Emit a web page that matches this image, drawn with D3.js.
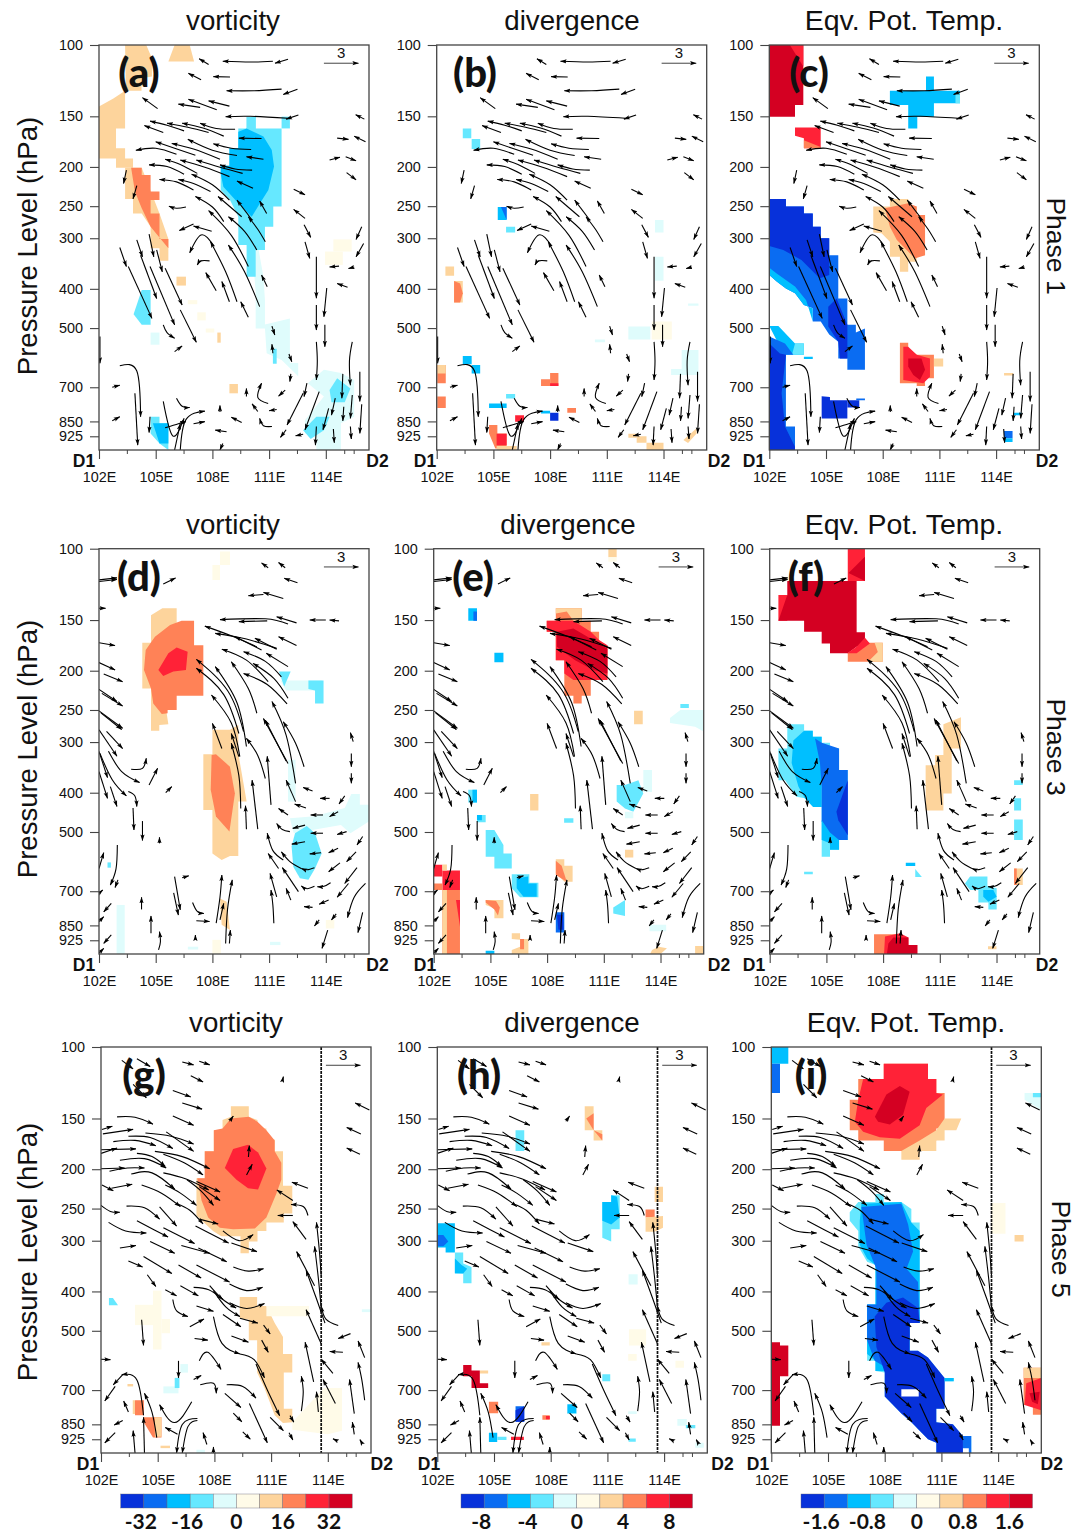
<!DOCTYPE html>
<html>
<head>
<meta charset="utf-8">
<script src="https://cdn.jsdelivr.net/npm/d3@7"></script>
<style>
body { margin: 0; background: #fff; }
text { font-family: "Liberation Sans", Arial, sans-serif; fill: #111; }
</style>
</head>
<body>
<svg id="chart" width="1086" height="1534"></svg>
<script>
// lev is log-pressure depth: 0 = 100 hPa, 100 = 1000 hPa
var pressureTicks = [100, 150, 200, 250, 300, 400, 500, 700, 850, 925];
var lonTicks = [102, 105, 108, 111, 114];
var lonMinor = [103.5, 106.5, 109.5, 112.5, 115, 115.5];
var colors = ["#0731da", "#0a6cf2", "#00bfff", "#66e8ff", "#dffcfc", "#fffbe8", "#fdd49c", "#ff8257", "#ff2237", "#d40022"];

// a shape is [color, lon0, lon1, lev0, lev1] or a polygon [color, lon, lev, lon, lev, ...]
var fillA = [
  [6, 103.38,0, 104.5,0, 104.8,3.3, 104.8,7.8, 104.25,8.2, 104.25,11.3, 103.42,11.3],
  [6, 105.67,4.1, 107.03,4.1, 106.8,0, 106,0],
  [6, 102,15.2, 102.76,13.2, 103.38,11.3, 103.38,20.6, 102.9,20.6, 102.9,25.5, 103.38,25.5, 103.38,28, 103.8,28, 103.8,30.3, 102.9,30.3, 102.9,28, 102,28],
  [6, 103.38,30.3, 104.26,30.3, 105.2,41.6, 105.67,47.9, 105.67,53.3, 105.2,53.3, 105.2,50.2, 104.73,50.2, 104.73,44.9, 104.26,41.6, 103.8,41.6, 103.8,38, 103.38,38],
  [7, 103.7,30.3, 104.26,30.3, 104.26,32.1, 104.73,32.1, 104.73,36.2, 105.2,36.2, 105.2,38.3, 104.73,38.3, 104.73,41.6, 105.2,41.6, 105.2,47.9, 105.67,47.9, 105.67,50.2, 104.73,44.9, 104.26,40.3, 103.9,36.2],
  [6, 106.1,106.6,57.2,59.4],
  [6, 108.9,109.35,83.7,86],
  [6, 108.26,108.44,71,73.5],
  [5, 114.4,115.37,48,51],
  [5, 113.96,114.9,51,54.3],
  [5, 106.7,107.2,63,64],
  [5, 107.2,107.65,66,68],
  [5, 107.65,108.1,70,71],
  [4, 109.81,34,110.7,57.2, 110.78,63,110.78,69, 112.1,67.5, 112.1,78.5, 112.54,78.5, 112.54,81.8, 111.66,77.8, 110.87,76.1, 110.78,70, 110.29,70, 110.29,61],
  [4, 113.05,83.5, 113.9,80.2, 114.8,81, 115.5,82.7, 115.5,91.8, 114.8,93.4, 114.8,100, 113.5,100, 113.5,95.9, 112.9,95.9, 112.9,92.6, 113.9,86.8],
  [3, 109.37,20.6, 109.8,20.6, 109.8,17.7, 110.3,17.7, 110.3,20.6, 111.66,20.6, 111.66,39.9, 111.22,39.9, 111.22,44.9, 110.78,44.9, 110.78,50.6, 110.29,50.6, 110.29,57.2, 109.81,57.2, 109.81,49.4, 109.37,49.4, 109.37,42.4, 108.93,38.3, 108.44,35.8, 108.44,29.8, 108.9,29.8, 108.9,25.5, 109.37,25.5],
  [3, 111.66,112.1,17.7,20.6],
  [2, 109.81,20.6, 110.7,22.6, 111.14,25.9, 111.26,30, 110.96,35.8, 110.52,39.1, 110.08,42.4, 109.37,39.1, 108.58,35, 108.44,31.7, 108.44,29.8, 108.9,29.8, 108.9,25.5, 109.37,25.5, 109.37,21.4],
  [3, 111.2,111.4,75,78.7],
  [3, 103.83,66.5, 104.26,60.5, 104.73,60.5, 104.73,69.1, 104.26,69.1],
  [4, 104.73,105.2,71,74],
  [3, 114.2,85.2, 114.6,82.3, 115.3,84.8, 115,88.2, 114.3,88.2],
  [3, 112.8,95.1, 113.5,91.8, 114.2,91.8, 113.9,95.1, 113.2,97.3],
  [3, 104.73,91.8, 105.2,91.8, 105.2,93.4, 105.67,93.4, 105.67,100, 105.2,98.4, 104.73,95.9],
  [2, 104.85,93.4, 105.67,93.4, 105.67,98.4, 105.2,98.4]
];
var fillB = [
  [3, 103.38,103.83,20.6,23], [3, 103.85,104.3,23.2,25.7],
  [2, 105.23,105.7,40,43.2], [1, 105.4,40, 105.7,40, 105.7,43.2],
  [3, 105.67,106.15,44.9,46.3],
  [6, 102.46,102.92,54.7,57],
  [6, 102.92,103.38,58.3,63.6],
  [7, 102.92,58.3, 103.24,58.9, 103.38,61.3, 103.24,63.6, 102.92,63.6],
  [7, 102.03,102.48,79,83.5], [6, 102.03,102.48,79,81.1],
  [7, 102.03,102.48,86.8,89.6],
  [2, 103.38,103.85,76.8,78.8], [2, 103.85,104.3,79,81.1],
  [3, 105.67,106.15,86.2,87.3],
  [2, 104.77,105.7,88.5,89.6],
  [8, 106.15,106.62,91.4,93],
  [7, 108,108.44,81,84.2], [7, 107.52,108,82.5,84.2], [8, 108,108.44,83.5,84.2],
  [0, 108,108.44,90.8,92.8], [2, 107.52,108,90.3,91],
  [7, 108.91,109.37,89.6,90.8],
  [7, 104.77,93.8, 105.21,93.8, 105.21,95.9, 105.7,95.9, 105.7,99.6, 105.1,99.6, 104.77,95.9],
  [8, 105.17,105.7,96,98.8],
  [6, 105.17,106.23,99,100],
  [6, 112.14,112.58,96,97], [6, 112.58,113.1,96.6,98.2], [6, 113.1,114,98.2,100],
  [6, 115.05,97.5, 115.75,94.6, 115.75,95.9, 115.3,98.3],
  [5, 113.38,114.44,68.3,72.7],
  [4, 112.14,113.3,69.5,72.7],
  [4, 113.55,114,43.2,46.3], [4, 113.55,114,52.3,58.2],
  [4, 114.96,115.85,75.3,81.5], [4, 114.4,115,80,81.5],
  [4, 115.3,115.85,63.8,64.4], [4, 110.37,110.9,72.7,73.4]
];
var fillC = [
  [9, 102,0, 103.8,0, 103.8,14.8, 103.36,14.8, 103.36,17.7, 102,17.7],
  [8, 103.09,0, 103.8,0, 103.8,5.3],
  [8, 103.36,20.4, 104.72,20.4, 104.72,25.5, 103.83,25.5, 103.83,23, 103.36,22.4],
  [7, 103.83,23.5, 104.72,25.2, 104.72,25.5, 103.83,25.5],
  [6, 107.5,39.9, 108.38,39.9, 108.38,38, 109.35,38, 109.35,39.9, 109.8,39.9, 109.8,42, 110.24,42, 110.24,51.9, 109.8,51.9, 109.8,53.5, 109.35,53.5, 109.35,56, 108.91,56, 108.91,52.3, 108.38,52.3, 108.38,48.6, 107.94,46.5, 107.5,46.3],
  [7, 108.12,40.3, 109.35,39.1, 109.8,39.9, 109.8,42, 110.24,42, 110.24,51.9, 109.7,52.7, 108.74,48.1, 108.38,44.9],
  [1, 102,38, 102.88,38, 102.88,39.9, 103.83,39.9, 103.83,41.6, 104.3,41.6, 104.3,44.9, 104.72,44.9, 104.72,47.7, 105.17,47.7, 105.17,51.9, 105.65,51.9, 105.65,62.6, 106.13,62.6, 106.13,69.1, 106.58,69.1, 106.58,71, 107.06,70, 107.06,80.2, 106.13,80.2, 106.13,77.4, 105.65,77.4, 105.65,73.3, 105.17,71.5, 104.72,68.3, 104.3,68.3, 104.3,65, 103.83,64.2, 103.36,61.3, 102.88,60.1, 102.39,58.4, 102,56.8],
  [2, 102,56.8, 102,55, 102.39,56.4, 103.36,59.6, 103.95,63, 104.3,68.3, 104.3,65, 103.83,64.2, 103.36,61.3, 102.88,60.1, 102.39,58.4],
  [0, 102,38, 102.88,38, 102.88,39.9, 103.83,39.9, 103.83,41.6, 104.3,41.6, 104.3,44.9, 104.72,44.9, 104.72,47.7, 105.17,47.7, 105.17,56.8, 104.67,57.6, 103.7,53.1, 102.74,50.6, 102,49.6],
  [0, 105.12,64.6, 105.56,62.6, 106.13,69.1, 106.13,77.4, 105.74,77.4, 105.65,73.3, 105.12,69.5],
  [2, 102,69.4, 102.48,69.4, 103.36,73.7, 103.83,73.7, 103.83,76.5, 103.36,76.5, 102.88,76.5, 102.4,73],
  [3, 103.36,73.7, 103.83,73.7, 103.83,76.5, 103.2,76.5],
  [1, 102,72, 102.83,73.7, 103.27,76.5, 102.88,76.5, 102.88,94.2, 103.36,94.2, 103.36,100, 102,100],
  [0, 102,73.7, 102.56,76.2, 102.88,76.5, 102.65,86, 102.83,94.2, 103.36,99.2, 103.36,100, 102,100],
  [2, 103.83,104.3,77,77.5],
  [0, 104.77,86.7, 105.21,86.9, 105.21,87.7, 106.13,87.7, 106.13,89.5, 106.76,89.5, 106.13,89.5, 106.13,92.2, 104.77,92.2],
  [0, 106.13,106.76,87.7,89.5], [1, 106.6,107.06,87.3,87.7],
  [1, 114.42,114.87,95.3,97.1], [2, 114.42,114.87,97.1,98],
  [2, 114.91,115.35,90.8,91.4], [6, 114.42,114.91,81,81.6],
  [7, 108.91,73.5, 109.35,73.5, 109.35,74.9, 109.8,76.5, 110.71,76.5, 110.71,82.3, 110.24,82.3, 110.24,84.2, 109.8,84.2, 109.8,83.5, 108.91,83.5],
  [6, 110.71,111.2,77.4,79.4],
  [8, 109.09,74.5, 109.35,74.5, 109.8,76.5, 110.5,77.4, 110.5,81.9, 110.15,83.5, 109.09,82.7],
  [9, 109.35,77.4, 110.05,77.4, 110.24,80.2, 109.97,82.7, 109.62,81.5, 109.35,79.4],
  [2, 108.38,11.3, 110.29,11.3, 110.29,7.8, 110.71,7.8, 110.71,11.3, 112.09,11.3, 112.09,14.4, 110.71,14.4, 110.71,17.7, 109.83,17.7, 109.83,20.6, 109.35,20.6, 109.35,14.8, 108.38,14.8],
  [3, 111.85,112.09,11.8,14.4]
];
var fillD = [
  [6, 104.75,16.4, 105.35,14.7, 106.11,14.7, 106.11,20.9, 105.58,40.6, 105.67,43.3, 105.19,43.5, 105.19,44.9, 104.75,44.9, 104.75,34.5, 104.29,34.5, 104.29,23.2, 104.75,23.2],
  [7, 104.96,21.7, 105.76,18.8, 106.37,17.8, 107.03,17.8, 107.03,23.8, 107.52,23.8, 107.52,32.4, 107.03,32.4, 107.52,32.4, 107.52,36.3, 106.11,36.3, 106.11,39.8, 105.63,39.8, 105.63,40.6, 105.32,40.8, 104.87,38.2, 104.75,34.5, 104.38,29.9, 104.47,25],
  [8, 105.14,29.9, 105.67,25.8, 106.11,24.4, 106.69,25.4, 106.6,29.9, 105.93,30.3, 105.4,31.4],
  [6, 108,44.7, 108.93,44.7, 109.37,43.5, 109.37,50.5, 109.81,62.4, 109.37,62.4, 109.37,75.8, 108.93,75.8, 108.49,76.8, 108,75.2, 108,64.5, 107.52,64.5, 107.52,50.7, 108,50.7],
  [7, 107.96,50.9, 108.19,50.7, 108.93,53.8, 109.19,60.4, 108.9,69.8, 108.19,66.1, 107.91,59.5],
  [6, 108.4,86.3, 108.75,87.1, 108.93,94.1, 108.49,92.8],
  [5, 108.4,108.93,0.7,4], [5, 108,108.4,4,7.7],
  [4, 112.1,66.5, 113.4,66, 115,64, 115.35,60.5, 115.8,60.5, 115.8,63.2, 116.28,63.2, 116.28,67.3, 115.3,70.2, 114.8,68.2, 112.3,70.2],
  [4, 112,112.4,52.1,62.4],
  [3, 112.19,73.5, 112.37,70.2, 112.99,68.4, 113.43,70.2, 113.78,75.2, 113.43,78.9, 113.08,81.7, 112.63,81.3, 112.28,78.5],
  [4, 111.6,32.5, 113.8,32.5, 113.8,35, 111.9,35],
  [3, 111.52,30.3, 112.14,30.3, 111.8,34],
  [3, 113.08,32.5, 113.88,32.5, 113.88,38.2, 113.43,38.2, 113.43,35, 113.08,34.6],
  [4, 102.93,103.36,87.9,100],
  [3, 102.45,102.63,77.4,78.7],
  [4, 111.05,111.6,97,97.8],
  [5, 108,108.45,96.5,100],
  [4, 106.7,107.25,98.2,98.9],
  [5, 114,114.45,91.6,93.7]
];
var fillE = [
  [2, 103.83,104.29,14.7,17.8], [1, 104.1,104.29,15.5,17.8],
  [2, 105.21,105.69,25.7,28],
  [3, 103.83,104.29,59.5,62.6], [2, 104.05,104.29,59.5,62.6],
  [3, 104.29,104.75,65.7,67.5], [2, 104.29,104.55,65.7,67],
  [3, 104.75,69.4, 105.21,69.4, 105.69,73.1, 105.69,75.2, 106.13,75.2, 106.13,78.9, 105.21,78.9, 105.21,76, 104.75,76],
  [3, 106.13,80.3, 107.06,80.3, 107.06,82.4, 107.54,82.4, 107.54,86, 106.57,86, 106.13,83.8],
  [2, 106.39,81.3, 107,80.9, 107,82.6, 107.45,82.6, 107.45,85.9, 106.75,85.9, 106.39,83.8],
  [3, 108.9,109.39,66.5,67.6],
  [6, 107.1,107.54,60.5,64.6],
  [6, 111.24,111.68,0,2.1], [5, 111.24,111.68,2.1,3.2],
  [6, 112.6,113.06,40,43.3],
  [4, 113.09,113.55,54.6,60],
  [3, 111.68,58.3, 112.12,58.3, 112.83,57.1, 113.09,60.4, 112.56,64.9, 112.12,64.1, 111.68,62.4],
  [4, 112.12,112.56,64.9,66.5],
  [4, 114.5,41.8, 115.05,39.8, 116.28,39.8, 116.28,45.1, 115.83,43.9, 114.5,43],
  [3, 115.05,115.5,38.3,39.3],
  [6, 112.12,112.56,74.3,76.2],
  [3, 111.5,88.5, 112.12,86.7, 112.12,90.6, 111.5,90],
  [4, 113.42,114.3,92.8,94.4],
  [7, 108.46,14.7, 109.83,14.7, 109.83,17.8, 110.31,17.8, 110.31,20.5, 110.75,20.5, 110.75,23.8, 111.19,23.8, 111.19,32.4, 110.31,32.4, 110.31,36.3, 109.83,36.3, 109.83,38.2, 109.39,38.2, 109.39,36.3, 108.91,36.3, 108.91,27.5, 108.46,27.5, 108.46,20.5, 107.98,20.5, 107.98,17.8, 108.46,17.8],
  [6, 108.46,14.7, 109.83,14.7, 109.83,17.8, 109.39,17.8, 109.04,15.5, 108.46,16],
  [8, 107.98,17.8, 109.39,17.8, 110.31,20.5, 110.75,22.5, 111.19,23.8, 111.19,32.4, 109.39,32.4, 108.91,30.8, 108.91,27.5, 108.46,27.5, 108.46,20.5, 107.98,20.5],
  [9, 108.52,20.5, 109.39,19.7, 110.27,22.1, 111.19,24.6, 111.19,30.8, 110.45,29.9, 109.48,27.5, 108.52,24.2],
  [8, 102,102.46,78,80.9], [8, 102.46,103.39,79.4,84.2], [7, 102,102.46,82.6,84.2],
  [7, 102.46,103.39,84.2,100], [6, 102.46,102.7,84.2,100],
  [8, 103.18,86.7, 103.39,86.7, 103.39,93.2],
  [6, 102.46,102.7,77.9,79.4],
  [6, 104.75,86.7, 105.69,86.7, 105.69,91.2, 105.21,91.2, 105.21,88.7, 104.75,87.9],
  [7, 104.75,86.7, 105.3,86.9, 105.5,88.5, 105.4,90.5, 105.21,89, 104.75,87.3],
  [6, 108.46,76.6, 108.91,76.6, 108.91,78.2, 109.35,78.2, 109.35,82.2, 108.91,82.2, 108.46,80.1],
  [7, 108.46,77, 108.77,78.2, 109.04,82.2, 108.46,80.5],
  [1, 108.46,108.91,89.7,94.7], [0, 108.52,90.3, 108.84,90.3, 108.87,94, 108.6,94],
  [6, 106.13,94.9, 106.57,94.9, 106.57,96.3, 107.01,96.3, 107.01,100, 106.13,100, 106.13,99, 106.57,98.2, 106.57,96.5, 106.13,96.3],
  [7, 106.57,106.78,96.3,98.8],
  [2, 104.75,105.21,99.2,100],
  [6, 113.55,99, 113.9,98.2, 114.34,98.6, 114,100, 113.45,100],
  [6, 115.83,116.28,98,100]
];
var fillF = [
  [8, 106.13,107.04,0,8],
  [9, 106.17,6, 107.04,2, 107.04,8],
  [7, 107.04,23.2, 107.98,23.2, 107.98,27.9, 106.13,27.9, 106.13,25.8, 106.95,24.5],
  [6, 107.55,23.2, 107.98,23.2, 107.98,27.9, 107.2,27.9, 107.72,25.5],
  [8, 102.46,11.4, 102.93,11.4, 102.93,17.8, 102.46,17.8],
  [9, 102.93,8, 106.6,8, 106.6,20.6, 107.04,20.6, 107.04,23.4, 106.6,24.2, 106.13,25.8, 105.19,25.8, 105.19,23.4, 104.75,23.4, 104.75,20.5, 103.82,20.5, 103.82,17.8, 102.46,17.8, 102.93,11.4],
  [8, 106.1,25.8, 106.6,24.2, 107.04,22, 107.3,23.4, 106.6,25.8],
  [3, 102.93,43.3, 103.82,43.3, 103.82,44.9, 104.28,44.9, 104.28,46.4, 104.75,46.4, 104.75,47.9, 105.19,47.9, 105.19,49.3, 105.67,49.3, 105.67,54.6, 106.13,54.6, 106.13,71.9, 105.67,71.9, 105.67,74.3, 105.19,74.3, 105.19,76, 104.75,76, 104.75,63.7, 104.3,63.7, 103.86,61.6, 103.42,61.2, 102.81,57.1, 102.46,57.1, 102.46,49.3, 102.93,49.3],
  [2, 103.25,47.3, 103.82,44.9, 104.28,44.9, 104.28,46.4, 104.75,46.4, 104.75,63.7, 104.3,63.7, 103.86,61.6, 103.52,58.7, 103.16,52.9],
  [1, 104.4,46.8, 104.75,47.9, 105.67,49.3, 105.67,54.6, 106.13,54.6, 106.13,71.9, 105.19,71.9, 104.75,67.3, 104.75,58.7, 104.66,52.9],
  [0, 105.53,64.9, 106.13,57.1, 106.13,70.7, 105.63,67],
  [2, 104.75,67, 105.19,70, 105.67,71.9, 105.67,74.3, 105.19,74.3, 105.19,72.7, 104.75,71.9],
  [3, 103.82,104.28,79.7,80.3],
  [2, 109.2,109.7,77.5,78.3],
  [3, 109.7,79, 110.05,81, 109.7,81],
  [3, 112.33,82.6, 112.6,80.9, 113.52,80.9, 113.52,83.2, 114.01,83.8, 114.01,89, 113.57,89, 113.57,87.3, 113.04,87.3, 113.04,84.2, 112.6,84.2],
  [2, 113.3,84.2, 113.83,84.2, 114.01,85.9, 113.57,87.1, 113.3,85.9],
  [3, 114.93,115.39,57.1,58.3], [3, 114.93,115.3,61.6,64.6], [3, 114.93,115.39,66.8,71.9],
  [6, 114.93,115.39,78.9,83], [7, 114.93,115.07,78.9,83],
  [6, 111.19,43.3, 112.12,41.6, 112.12,49.3, 111.63,49.3, 111.63,60.4, 111.19,60.4, 111.19,64.6, 110.25,64.6, 110.25,53.4, 110.75,53.4, 110.75,50.9, 111.19,50.9],
  [7, 107.52,108.9,95.1,100],
  [8, 108.1,95.7, 108.9,94.9, 109.34,95.9, 109.34,97.8, 109.81,97.8, 109.81,100, 108.05,100],
  [9, 108.28,97.4, 108.54,95.9, 109.34,95.9, 109.34,97.8, 109.81,97.8, 109.81,100, 108.2,100],
  [6, 113.55,114,98.1,98.8]
];
var fillG = [
  [6, 108.87,14.6, 109.82,14.6, 109.82,17.2, 110.28,18, 110.28,20.1, 110.75,20.1, 110.75,22.8, 111.19,22.8, 111.19,25.7, 111.63,25.7, 111.63,34.2, 112.12,34.2, 112.12,41, 111.67,41, 111.67,43.2, 110.75,43.2, 110.75,45.3, 110.28,45.3, 110.28,47.9, 109.82,47.9, 109.82,50.8, 109.38,50.8, 109.38,46.6, 108.37,46.6, 107.93,45.3, 107.44,43.2, 107.05,41.5, 107.05,32.3, 107.49,32.3, 107.49,25.7, 107.97,25.7, 107.97,20.5, 108.43,20.5, 108.43,18, 108.87,17.2],
  [7, 108.43,20.1, 108.87,17.6, 109.82,17.2, 110.28,18.4, 110.75,20.5, 111.19,23, 111.19,25.7, 111.54,28.5, 111.54,32.7, 111.28,36.1, 110.75,42, 110.14,44.7, 108.99,44.9, 108.29,44.5, 107.67,42, 107.32,37.8, 107.09,32.3, 107.49,32.3, 107.49,25.7, 107.97,25.7, 107.97,20.5],
  [8, 108.55,29.8, 108.99,25.1, 109.78,24.1, 110.31,26, 110.75,29.9, 110.31,35.1, 109.78,34.8, 109.17,32.7],
  [6, 109.34,61.6, 110.26,61.6, 110.26,63.8, 110.75,63.8, 111.19,68, 111.63,71.4, 111.63,75.6, 112.12,75.6, 112.12,80.2, 111.67,80.2, 111.67,89.1, 112.12,89.1, 112.12,92.4, 111.63,92.6, 111.19,90.7, 110.65,84, 110.26,80.2, 110.26,72.2, 109.82,72.2, 109.82,67.2, 109.34,66.8],
  [5, 103.8,104.75,63.5,68.5], [5, 104.75,105.2,60,74.5], [5, 105.2,105.65,67,70.5],
  [5, 110.75,113,63.8,66.3],
  [5, 112.12,92.4, 113.8,84, 114.75,84, 114.75,94.5, 114,95.4, 112.12,94.3],
  [3, 102.42,61.8, 102.63,61.8, 102.9,63.6, 102.42,63.6],
  [7, 103.8,104.27,87,90.7], [6, 103.68,103.8,87,90.4],
  [7, 104.27,91.2, 105.2,91.2, 105.2,96.2, 104.75,96.2, 104.27,92.5], [6, 104.85,105.2,91.2,96],
  [6, 103.4,103.7,83,83.6],
  [6, 105.15,105.65,98.2,98.8],
  [4, 105.3,106.1,83.6,85.3], [3, 105.9,106.15,81.5,84], [4, 106.2,106.6,78.1,80.2],
  [4, 107.05,107.5,99.2,100], [4, 115.8,116.28,64.6,65.3]
];
var fillH = [
  [3, 106.14,106.6,20.5,25.6],
  [6, 107.51,107.95,72.7,73.5],
  [6, 109.8,110.27,14.6,20.5], [7, 109.88,17.6, 110.27,16.3, 110.27,20.5],
  [6, 110.27,110.73,20.5,23], [7, 110.27,20.5, 110.73,21.5, 110.73,23],
  [6, 113.5,113.94,34.4,38.2],
  [7, 113.02,113.5,40,42],
  [6, 113.02,42, 113.94,41.6, 113.94,44.5, 113.5,45.5, 113.02,45.5],
  [3, 110.73,38.2, 111.2,38.2, 111.2,36.5, 111.65,36.5, 111.65,44.9, 111.2,44.9, 111.2,47.9, 110.73,47],
  [2, 110.73,38.2, 111.2,38.2, 111.2,36.5, 111.51,36.9, 111.65,42, 111.2,43.7, 110.73,42.8],
  [2, 102,43.4, 102.93,43.4, 102.93,50.6, 102.44,50.6, 102.44,49.4, 102,49.4],
  [1, 102,46.3, 102.32,46.3, 102.58,47.9, 102.32,49.1, 102,49.1],
  [3, 102.93,50.6, 103.37,50.6, 103.37,53.3, 103.81,54.2, 103.81,58.2, 103.37,58.2, 103.37,55.8, 102.93,55.8],
  [2, 102.93,52.1, 103.29,53.7, 103.58,54.6, 103.37,55.8, 102.93,55.7],
  [4, 112.12,112.6,56,58.5],
  [5, 112.14,113.05,69.5,73.5], [5, 112.1,112.55,75.6,77.3], [5, 114.6,115.05,77.3,79],
  [3, 110.73,111.15,80.6,82.3],
  [6, 104.25,104.69,79.7,80.4], [6, 104.25,104.69,83,84],
  [9, 103.37,78.3, 103.81,78.3, 103.81,79.7, 104.25,79.7, 104.25,82.8, 104.69,82.8, 104.69,84, 103.81,84, 103.81,81.1, 103.37,81.1],
  [7, 104.73,105.22,87.4,90.2],
  [1, 106.14,106.6,88.5,92.3], [0, 106.14,89.5, 106.6,88.5, 106.6,92.3, 106.14,92.3],
  [7, 107.56,107.95,90.7,91.8], [8, 107.75,107.95,90.9,91.7],
  [2, 108.88,109.36,88,90.2], [3, 108.88,109.36,90.2,90.4],
  [2, 104.73,105.17,95,97.3], [3, 105.17,105.66,96,96.8],
  [8, 105.9,106.58,96,96.8],
  [3, 112.12,112.5,96.4,97.2],
  [4, 112.1,112.55,89.7,90.4], [4, 114.7,115.2,91.6,93.3], [3, 115.15,115.65,93.1,93.9], [4, 115.65,116.1,97.5,98.7]
];
var fillI = [
  [2, 102,102.9,0,4.1], [1, 102,102.46,4.1,11.3],
  [7, 106.6,7.9, 107.95,7.9, 107.95,4.1, 110.29,4.1, 110.29,7.9, 110.73,7.9, 110.73,11.3, 111.17,11.3, 111.17,20.1, 110.73,20.1, 110.73,23, 110.29,23, 110.29,25.6, 108.88,25.6, 107.95,25.6, 107.95,23, 106.6,23, 106.6,20.5, 106.15,20.5, 106.15,13, 106.6,13],
  [8, 106.86,7.9, 107.95,7.9, 107.95,4.1, 110.29,4.1, 110.29,7.9, 110.73,7.9, 110.73,11.3, 111.08,11.7, 110.2,15, 109.85,19.3, 108.8,22.6, 107.74,22.2, 106.86,20.9, 106.42,18.4, 106.6,13],
  [9, 107.48,17.2, 108.09,11.7, 108.8,9.6, 109.32,11, 108.97,16.7, 108.27,19.1, 107.65,18.4],
  [6, 111.17,17.6, 112.05,17.6, 111.79,20.5, 111.17,20.5, 111.17,23, 110.73,23, 110.73,25.6, 109.85,25.6, 109.85,27.8, 108.88,27.8, 108.88,25.6, 109.85,23, 110.73,20.5],
  [4, 115.4,11.3, 116.28,11.3, 116.28,15.5, 115.4,13],
  [3, 115.84,116.28,11.3,12.4],
  [3, 107.51,36.2, 107.95,36.2, 107.95,38.2, 108.88,38.2, 109.41,39.9, 109.41,43.2, 109.85,43.2, 109.85,68, 109.32,68, 109.32,74.8, 109.76,74.8, 110.29,76.5, 110.73,79, 111.17,81.5, 111.65,81.5, 111.65,82.3, 111.17,82.3, 111.17,89.1, 110.73,89.1, 110.73,92.4, 111.61,92.9, 112.14,95.8, 112.58,95.8, 112.58,100, 110.73,100, 110.73,97.5, 110.29,96.6, 109.41,92.4, 108.88,90.3, 108.44,88.2, 108,86.1, 108,80.2, 107.51,79.8, 107.51,77.3, 107.07,77.3, 107.07,63.4, 107.51,63.4, 107.51,53.7, 107.07,52.9, 106.6,49.1, 106.6,45.3, 106.15,42.8, 106.15,40.7, 106.6,38.2, 107.51,38.2],
  [2, 106.77,38.6, 108.88,38.2, 109.41,43.2, 109.85,45.3, 109.85,68, 109.32,68, 109.32,74.8, 108.27,79.8, 107.51,79.8, 107.51,77.3, 107.07,75.6, 107.07,63.4, 107.51,63.4, 107.51,53.7, 107.07,52.1, 106.68,48.7, 106.68,42.8],
  [1, 106.77,39.4, 108.88,38.6, 109.24,43.7, 109.5,50.4, 109.15,54.6, 109.76,57.9, 109.85,68, 109.32,68, 109.32,72.2, 108.09,79, 107.47,77.3, 107.07,72.2, 107.07,63.4, 107.56,63.4, 107.56,54.6, 107.04,48.7],
  [0, 107.47,66.4, 108.09,63, 108.97,61.7, 109.76,64.3, 109.85,68, 109.32,68, 109.32,74.8, 109.76,74.8, 110.29,76.5, 110.73,79, 111.17,81.5, 111.17,89.1, 110.73,89.1, 110.73,92.4, 111.61,92.9, 112.14,95.8, 112.14,100, 110.73,100, 110.73,97.5, 110.29,96.6, 109.41,92.4, 108.88,90.3, 108.44,88.2, 108,86.1, 108,80.2, 107.56,73.9],
  [1, 112.14,112.58,95.8,100],
  [2, 111.17,111.65,81.5,82.3],
  [102, 108.88,109.8,84.3,86.1],
  [102, 112.14,112.45,98.8,100],
  [9, 102,72.7, 102.46,72.7, 102.46,73.5, 102.9,73.5, 102.9,81.1, 102.46,81.1, 102.46,93.3, 102,93.3],
  [7, 115.35,79, 116.28,79, 116.28,90.6, 115.84,90.6, 115.84,88.2, 115.35,88.2],
  [6, 115.35,116.28,79,81.5],
  [8, 115.49,82.8, 116.28,81.5, 116.28,89.5, 115.4,88.2],
  [9, 115.66,85.3, 116.2,84.9, 116.1,88, 115.8,87.4],
  [5, 113.64,114.39,38.4,46],
  [6, 114.87,115.35,46.3,47.9]
];

// wind vectors, [lon, lev, ..., lon, lev] from tail to head
var phase1Vec = [
  [107.8,4.8,107.3,3.4], [112,3.5,111.31,4.5], [111.2,4,110,4.2,108.55,4], [107.4,8.6,106.73,7], [108.93,7.9,108.05,7.8],
  [112.5,10.9,111.75,12.2], [111.66,10.9,110.2,11.3,108.75,11.3], [105.1,15.7,104.3,13], [108.9,15.1,107.8,13.8], [108.23,16,106.73,13.4],
  [107.35,15.4,106.2,14.6], [112.55,17.3,111.9,18.3], [112,18.1,110,17.6,108.7,17.7], [116.04,18.3,115.58,17.2], [109.2,20.8,108.2,20.6,107.35,19.3],
  [108.6,22.5,107.5,20.5,106.4,19.3], [107.8,21.6,106.7,20.3,105.6,19.3], [106.5,21.2,105.6,19.8,104.7,18.8], [105.4,21.6,104.4,19.9], [110.6,23.1,109.4,23],
  [114.6,23,115.2,23.3], [116.1,23.9,115.5,22.5], [110.05,25.8,109,25.5,108.05,24.4], [109.3,27.3,108,26,106.7,23.3], [108.4,28.2,107,25.7,105.85,24.3],
  [107.1,27.2,106,25.5,105,23.9], [106.1,27,105,25.5,103.95,26], [110.7,28.2,109.8,27.6], [114.2,28.4,114.75,27.7], [115.05,27.6,115.6,28.6],
  [110.1,30.9,109.2,30.6,108.4,29.6], [109.6,31.7,108.4,30.2,107.15,28.4], [108.9,32.5,107.6,30.2,106.3,28.4], [107.2,31.7,106.3,29.5,105.5,28.2], [106.5,31.9,105.6,30,104.65,29.6],
  [115.1,31.5,115.6,33.3], [103.45,30.9,103.3,34.2], [110.15,35.4,109.3,33.6], [108.9,38.3,108,34.5,106.9,31.9], [107.9,36.2,107,34.2,106.2,33.2],
  [107,35.8,106.1,33.8,105.2,33.2], [104,34.7,103.8,38], [112.3,35.6,112.9,37], [110.87,41.6,110.5,38.5], [110.1,43.2,109.3,38.3],
  [109.55,42.4,108.3,37.4], [108.6,43.6,108,40,107.1,37.4], [106.6,40,106.1,40.3,105.7,39.8], [112.9,42.8,112.3,40.6], [115.9,44.9,115.6,48],
  [112.85,44.4,113.2,47.5], [110.8,48.6,110.4,45.5,109.9,42.4], [110.35,50.6,109.7,46,108.85,42.4], [109.9,54.7,109,47,107.8,40.9], [107.96,46,107,44.7],
  [107,44.2,106.25,45.8], [116,49,115.6,52.3], [112.9,48.6,113.15,52.7], [113.5,52.3,113.5,62.5], [110.9,59.7,110.6,56.8],
  [108.05,49.4,107.4,46.9,106.8,51.3], [109.3,63.4,108.7,56,107.9,48.6], [110.5,64.6,109.7,56,108.85,49.4], [108.9,63.4,108.5,58.4], [108.2,60.7,107.65,56.2],
  [107.85,53.3,107.4,53.3,107.2,54.3], [109.9,67.2,109.5,63.4], [115.15,59.8,114.6,58.9], [114.7,54.6,114.2,54.8], [115.5,54.8,115.2,55.2],
  [114.05,60,113.9,67.1], [113.5,64.2,113.5,70.4], [113.95,69.1,113.95,74.5], [104,48.1,104.3,52.3], [103.1,50,103.45,54.7],
  [104.65,46.7,104.9,52.3], [105.05,50.6,105.35,56], [104.2,51.9,105.05,62.6], [103.55,54.7,104.8,67.5], [104.7,54.7,106,69.1],
  [105.5,55.1,106.4,64.2], [106.3,65.4,107.15,73.4], [105.4,69.1,105.6,71,106,72.4], [106,75.7,106.4,74.3], [111.15,69.4,111.3,71.6],
  [111.2,76.1,111.15,73.9], [112.05,76.3,112.2,78.2], [112.15,81.2,112.1,83.1], [113.5,73.3,113.55,78,113.5,82.7], [115.4,73.3,115.25,78,115.3,84],
  [102.05,72,102.05,78.6], [103.1,79.2,104,80.5,104.2,91.8], [103.9,86,104.05,98.8], [102.7,84.5,103.1,84], [102.7,92.8,103.1,91.8],
  [114.9,81.2,114.85,87.2], [115.8,80.7,115.8,88], [109.8,86.8,109.8,84.8], [110.95,88.5,110.4,87,110.6,83.5], [111.85,85.2,111.5,86.7],
  [113,83.5,112.85,86.8], [112.8,86,111.95,93.8], [113.65,85.6,112.9,95], [114.5,87.2,114.3,91.4], [114.15,89.7,113.85,95],
  [114.95,89.3,114.9,92.8], [115.4,86.4,115.3,92.2], [115.9,88.7,115.8,95.9], [113.5,94.2,113.45,98.8], [115.3,94.2,115.35,97.3],
  [114.4,94.8,114.45,98.2], [112.8,96.1,112.4,96.5], [111.9,95,111.6,96.9], [106.1,87.2,106.4,89.2,106.8,89.5], [105.4,88,105.9,96.5,106.5,92.2],
  [106.3,100,106.6,92.5,107.6,90.4], [106,100,106.3,93.5], [107,93.5,107.6,93], [105.5,94.5,106.2,93.5,106.6,93], [104.7,91.8,104.65,95.7],
  [108.4,90.6,108.4,89], [109.55,93.2,109,91.9], [108.75,95.5,108.15,95.1], [111.15,94.2,110.7,94,110.5,92.2], [110.4,90.5,110.1,88.6],
  [111.4,90,111,90.3], [108.55,98.4,108.4,100]
];
var phase3Vec = [
  [102,8.1,102.95,7.6], [102,7.7,102.95,7.2], [105.4,8.7,106.05,7.2], [102,14.7,102.35,14.7], [102,23.2,102.85,23.9],
  [102,28.1,102.85,29.9], [102.25,30.9,103.25,32.8], [102,34.7,102.95,37.7], [102.15,35.7,103.25,38.8], [102,40,103.25,44.3],
  [102.1,40.5,103.2,44.6], [102.4,45.1,103.25,49.3], [102,44.7,102.95,51.2], [102.5,50,103.2,55,104.15,57.7], [102,50,102.45,56.5],
  [102,55,102.45,61.6], [102.05,50.5,102.7,57,103.45,61], [102.6,58.7,102.95,63.6], [103.55,59.9,103.9,61,104,63.6], [103.8,64,103.85,69.4],
  [104.3,67.2,104.3,72], [105.2,72.7,105.2,71.2], [103.7,54.4,104.3,54.2,104.5,51.7], [104.65,58.3,105.1,54.2], [105.53,60.2,105.85,58.7],
  [102,78.9,102.25,75], [102.97,73.1,102.9,79,102.6,83], [103,81.7,102.85,83.6], [102,85,102.2,84.2], [102.65,87.5,102.25,89.6],
  [102,92,102.25,90.8], [102.65,95.3,102.25,97.4], [102,99.8,102.25,98.6], [104.25,89,104.25,86], [104.75,94.9,104.75,90.6],
  [105.15,99,105.25,97,105.2,94.5], [106,80.9,106.15,85,106.3,89.1], [105.95,84.9,106.2,90.4], [106.4,81.2,106.75,80.7], [106.95,87.3,107.2,89.5,107.55,90],
  [107.15,91.8,107.85,92], [107.1,95.9,107.1,95.3], [108.2,92.4,108.4,86,108.5,80.5], [108.7,97.4,108.8,89,109.05,81.7], [108.4,91.6,108.6,87.5],
  [108.9,97.4,108.95,94.1], [108.5,49.3,108,43.1], [109.4,51.3,109,45.6], [109.5,64.1,109.4,56,109,48], [109.8,69.2,109.75,63.4],
  [110.4,69.2,110.1,57.1], [110.8,56.7,110.4,51,109.8,46.8], [111.1,63.2,110.9,51.2], [112.4,62.4,111.9,57.1], [113.3,59.8,112.8,58.9],
  [112.95,64,112.35,63], [112,65.7,111.5,64.1], [115,61,114.7,63], [114.2,61.6,113.7,61.6], [114.65,64.9,114.2,66.1],
  [113.85,65.7,113.2,65.7], [112.9,68.2,112.25,69], [112.1,69.8,111.7,69.3,111.4,67.8], [113.85,70.2,113.2,70.2], [115.1,69.8,114.6,70.5],
  [112.9,72.3,112.2,72.9], [113.75,75,113.15,75.3], [114.65,73.9,114.15,75], [115.95,71,115.65,73.1], [115.6,74.8,115.1,77.2],
  [113.4,78.7,113,79.2,112.7,78.9], [112.7,78.9,112.1,77.2,111.65,74.8], [114.75,77.5,114.15,79.7], [115.65,78.7,115,82.6], [112.55,84.6,111.7,78.7],
  [111.75,76.8,111.2,74.5,110.9,70.2], [111.5,78.9,110.95,75.2], [112.15,86.7,111.9,83.8], [111.4,85.9,111.05,80.1], [111.25,92.4,111.2,88,111.1,84.2],
  [113.4,83.3,113,83.9,112.7,83.2], [114.25,82.4,113.9,83.3,113.55,83.4], [115.2,82.6,114.6,86], [116.1,82.6,115.5,86,115.15,91], [114.15,86.7,113.65,87.7],
  [113.3,88.5,112.85,88.3], [114.55,90.1,114.3,91.6], [113.65,91.6,113.4,93.1], [115.95,89.7,115.7,94.7], [114.1,94.1,113.8,98.6],
  [111.75,12.3,110.7,10.8], [110.7,11.3,109.9,11.6], [112.5,8.4,111.8,7.3], [111.85,4.7,111.5,3.4], [110.95,4.7,110.6,3.5],
  [112.45,18.3,111.4,16.8], [112,18.6,110.8,17.3,108.4,17.5], [110.9,17.8,109.4,18], [114.7,17.8,114.2,17.6], [114,17.6,113.15,17.6],
  [112.45,23.9,111.5,21.7], [111.4,24.8,110.25,22.1], [110.6,25,109.2,21.7], [111.4,24.6,109.8,22.3,108.15,20.9], [110.35,24.2,109,21.5,107.6,19.1],
  [112,29.1,110.85,25.8], [111.65,31.6,110.8,27.8,109.65,25.4], [110.95,32.8,109.8,27.5,108.5,24.8], [112,36.9,111.25,32,110.15,28.3], [111.95,38.3,110.9,33.5,109.65,30.8],
  [110.35,40.6,109.9,34.5,109,27.9], [109.4,45.6,108.6,36,107.15,29.5], [109.65,45.1,108.8,35,107.15,27.3], [109.8,48.8,109.3,38,108.15,29.1], [109.45,51.3,109,43,107.95,36.1],
  [112,53,110.7,41.9], [111.9,52.4,110.8,42.3], [112.4,57.9,111.9,46,111.15,37.7], [112.85,53.8,112.4,48,111.75,42.7], [115.45,47.6,115.3,45.4],
  [115.35,50.5,115.35,53.8], [115.35,55.4,115.35,57.9]
];
var phase5Vec = [
  [103.9,2.9,104.6,4.8], [103.1,3.3,103.7,5.4], [106.3,3.7,106.9,4.4], [107.2,3.5,107.75,4.4], [106.75,7.1,107.4,8.6],
  [111.6,8.3,111.65,7.3], [105.8,10.7,106.75,12.3], [106.3,13.8,107.35,15.3], [103.7,9.2,104.4,12.5], [102.85,17.2,103.8,17.3,104.75,19],
  [105.8,17,106.9,19.3], [102.05,20.3,102.6,19.5], [102.1,21.4,103.7,20.3], [116.2,15.5,115.45,13.8], [115.75,21.4,115,19.8],
  [115.7,26.4,115,24.9], [108.8,18.3,109,17], [109.8,27.1,109.85,24.3], [109.7,31.5,110,28.9], [112.95,34.8,112.1,33.3],
  [112.95,41.5,112.7,39.3,112.05,38.8], [112.15,41.5,111.35,41.5], [112.15,37.8,111.3,35.2], [112.85,47.4,112.15,43], [105.45,20.9,106.9,25.7],
  [104.35,21.2,105.7,22,106.9,23.9], [103.45,22,104.6,22.3,105.8,25], [102.65,23.3,103.8,23,104.9,24.3], [102,26.2,102.85,24.9], [102,25.3,103.85,25.1],
  [103.9,26.2,104.7,27,105.4,29.4], [104.85,25.7,106.3,27,107.75,30], [105.3,26.4,106.4,28.5,107.4,31.5], [103,27.9,104.3,27.5,105.45,29.8], [102,30,103.25,29.8],
  [102.45,30.6,103.4,29.8,104.3,29.8], [103.6,31.3,104.7,31,105.9,35], [105.3,31,106.5,32.5,107.7,35.2], [107.05,33.1,108.3,35.7], [107.2,34.4,108.3,37.8],
  [106.55,32.7,107.3,35.5,107.95,39], [102.05,34,102.65,35.4], [102.55,34.8,103.65,33.8], [104.15,34,105.2,36,106.2,39.3], [105.4,34,106.2,36,107.05,39],
  [102,39,102.5,40.5,103,40.7], [103.35,39.2,104.3,39.6,105.1,42.4], [105.1,39.4,106,44.1], [106,38.6,106.7,40.2,107.4,43.6], [107.2,42.4,108.2,43.6],
  [102.4,43.2,103.3,45.3,104.4,45.8], [103.9,42.8,104.8,45,105.55,46.8], [105.3,44.5,106.95,48.4], [107,44.1,108.75,48.3], [108.45,45.3,109.3,47.7,110.05,46.2],
  [103,49.5,103.85,48.9], [104.6,47.9,105.9,50.8], [106.25,48.9,107.75,50.8], [107.15,49.5,108.65,52.9], [108.9,48.3,110.25,50.4],
  [103.45,52.7,104.2,54.2], [104.25,51.6,105.75,55.8], [106.1,53.7,107.3,56.9], [107.05,53.7,108.8,57.9], [109,54.2,109.8,55.2,110.6,54.6],
  [104.45,56.1,104.9,59], [105.4,59.8,106,61.3], [106.2,58.8,107.15,61.3], [106.9,59.2,107.7,59.8,108.45,62.2], [107.75,58.8,108.4,62,109.15,64.3],
  [108.8,58.4,109.7,60,110.55,59.2], [105.8,62.2,106,65,106.6,66.4], [107.05,63.8,107.95,65.1], [107.95,60,108.6,64,109.35,66.4], [108.8,63,109.7,64.4,110.65,63.2],
  [104.15,67.2,104.25,73.5], [106.7,68.9,107.45,67], [107.95,66.4,108.4,73,109.35,75.6], [108.45,65.9,109.4,68.9], [109.35,66.8,110.3,68],
  [110.6,68.5,110.95,70.7], [106.95,71.8,107.65,72.2], [108.9,71.2,109.8,72.7], [110.5,72.2,110.85,75.2], [102,76.9,102.5,77],
  [107.2,77.3,107.65,75.2,108.35,79.4], [106.9,81.9,107.3,80.9], [109.35,75.6,110.1,77,110.65,81.5], [107.25,83.2,107.95,82.8,108.1,85.3], [108.65,83.2,109.5,83.6,110.2,86.5],
  [110.2,78.1,110.8,84.5,111.45,90.8], [103.15,80.7,102.65,83.2], [104.25,90.7,103.9,82,103.1,80.7], [102.75,83.6,102.2,87.2], [103.45,89.9,103.2,87.2],
  [104.95,96.2,104.7,90,104.3,85.3], [104.3,100,104.25,91.2], [103.8,100,103.7,94.5], [103.15,92,102.7,93.1], [102.75,95,102.2,97.5],
  [106.8,87.4,105.9,92.5,105.1,88.1], [106.05,95.4,105.4,93.7], [107.1,92,106.6,93.5,106.3,100], [107.1,91.5,106.3,93,106,100], [107.6,97.9,107.4,95],
  [107.95,100,107.95,98.5], [106.1,77.3,106.1,81.5], [108.55,85.3,109.4,88.8], [109,90.2,109.45,92.3], [109.5,94.8,109.9,96.6],
  [109.85,87.8,110.8,97.5], [110.95,91.2,111.65,94.5], [111.95,95,112.15,96.8], [112,90.8,112.2,92.4], [112.6,89.7,112.7,85,112.6,81.1],
  [113.5,89.9,113.4,84.9], [114.4,87.8,113.75,81.9], [113.25,82.5,112.8,72.7], [114.27,80.4,113.65,76.9], [115.95,87,115.8,82,115.6,77.7],
  [115.4,90.3,115.15,81.9], [115.4,95.4,115.3,92.4], [115.8,97.5,115.7,96.7], [114.4,96.8,114.27,96.5], [115.95,76.5,115.6,72.4],
  [114.8,75.2,114.1,75], [115.2,70.6,114.55,71.8], [114.55,68.6,113.9,67,113.65,63.8], [113.65,73.1,112.85,64.7], [113.85,68,113.4,62,112.85,55],
  [113.65,64.3,113.5,57,113.3,49.1], [113.3,58.8,112.35,50.4], [113.65,56.3,113.55,50,113.4,43.2]
];

var refVecLon = [113.9, 115.73];
var refVecLev = 4.5;
var refVecLabel = "3";
var dashLon = 113.65;

var panels = [
  {tag: "(a)", fill: fillA, vec: phase1Vec, x: 99,    y: 45,    h: 405,   title: "vorticity",       tx: 233, tag_x: 139, d1: 84,  d2: 377.5},
  {tag: "(b)", fill: fillB, vec: phase1Vec, x: 436.7, y: 45,    h: 405,   title: "divergence",      tx: 572, tag_x: 475, d1: 425, d2: 719},
  {tag: "(c)", fill: fillC, vec: phase1Vec, x: 769.3, y: 45,    h: 405,   title: "Eqv. Pot. Temp.", tx: 904, tag_x: 809, d1: 754, d2: 1047},
  {tag: "(d)", fill: fillD, vec: phase3Vec, x: 99,    y: 548.7, h: 405.3, title: "vorticity",       tx: 233, tag_x: 139, d1: 84,  d2: 377.5},
  {tag: "(e)", fill: fillE, vec: phase3Vec, x: 433.7, y: 548.7, h: 405.3, title: "divergence",      tx: 568, tag_x: 473, d1: 425, d2: 719},
  {tag: "(f)", fill: fillF, vec: phase3Vec, x: 769.7, y: 548.7, h: 405.3, title: "Eqv. Pot. Temp.", tx: 904, tag_x: 806, d1: 754, d2: 1047},
  {tag: "(g)", fill: fillG, vec: phase5Vec, x: 101,   y: 1047,  h: 406,   title: "vorticity",       tx: 236, tag_x: 144, d1: 88,  d2: 381.7, dash: true},
  {tag: "(h)", fill: fillH, vec: phase5Vec, x: 437.3, y: 1047,  h: 406,   title: "divergence",      tx: 572, tag_x: 479, d1: 429, d2: 722.5, dash: true},
  {tag: "(i)", fill: fillI, vec: phase5Vec, x: 771.3, y: 1047,  h: 406,   title: "Eqv. Pot. Temp.", tx: 906, tag_x: 811, d1: 758, d2: 1051.7, dash: true}
];

var svg = d3.select("#chart");

svg.append("defs").append("marker")
  .attr("id", "head")
  .attr("markerUnits", "userSpaceOnUse")
  .attr("viewBox", "0 0 8 6")
  .attr("refX", 7.5).attr("refY", 3)
  .attr("markerWidth", 6.5).attr("markerHeight", 4.9)
  .attr("orient", "auto")
  .append("path")
    .attr("d", "M0,0.4L8,3L0,5.6L1.6,3Z")
    .attr("fill", "#000");

panels.forEach(function(p, i) {
  var w = 270;
  var lon = d3.scaleLinear().domain([102, 116.285]).range([p.x, p.x + w]);
  var lev = d3.scaleLinear().domain([0, 100]).range([p.y, p.y + p.h]);
  var pres = d3.scaleLog().domain([100, 1000]).range([p.y, p.y + p.h]);
  var g = svg.append("g");

  svg.select("defs").append("clipPath").attr("id", "clip" + i)
    .append("rect").attr("x", p.x).attr("y", p.y).attr("width", w).attr("height", p.h);

  var plot = g.append("g").attr("clip-path", "url(#clip" + i + ")");

  // shaded field
  plot.selectAll("path.cell")
    .data(p.fill)
    .enter()
    .append("path")
      .attr("class", "cell")
      .attr("fill", function(d) { return d[0] > 9 ? "#fff" : colors[d[0]]; })
      .attr("d", function(d) {
        if (d.length == 5) {
          return "M" + lon(d[1]) + "," + lev(d[3]) + "H" + lon(d[2]) + "V" + lev(d[4]) + "H" + lon(d[1]) + "Z";
        }
        var pts = [];
        for (var k = 1; k < d.length; k += 2) pts.push([lon(d[k]), lev(d[k + 1])]);
        return d3.line()(pts) + "Z";
      });

  // curly vectors
  var vecLine = d3.line().curve(d3.curveNatural);
  plot.selectAll("path.vec")
    .data(p.vec)
    .enter()
    .append("path")
      .attr("class", "vec")
      .attr("fill", "none")
      .attr("stroke", "#000")
      .attr("stroke-width", 1.1)
      .attr("marker-end", "url(#head)")
      .attr("d", function(d) {
        var pts = [];
        for (var k = 0; k < d.length; k += 2) pts.push([lon(d[k]), lev(d[k + 1])]);
        return vecLine(pts);
      });

  if (p.dash) {
    g.append("line")
      .attr("x1", lon(dashLon)).attr("x2", lon(dashLon))
      .attr("y1", p.y).attr("y2", p.y + p.h)
      .attr("stroke", "#111").attr("stroke-width", 1.7)
      .attr("stroke-dasharray", "3,1");
  }

  // reference vector
  g.append("line")
    .attr("x1", lon(refVecLon[0])).attr("x2", lon(refVecLon[1]))
    .attr("y1", lev(refVecLev)).attr("y2", lev(refVecLev))
    .attr("stroke", "#444").attr("stroke-width", 1)
    .attr("marker-end", "url(#head)");
  g.append("text")
    .attr("x", lon((refVecLon[0] + refVecLon[1]) / 2)).attr("y", lev(refVecLev) - 5)
    .attr("text-anchor", "middle").attr("font-size", 15).text(refVecLabel);

  // axes
  var yAxis = d3.axisLeft(pres).tickValues(pressureTicks).tickFormat(d3.format("d")).tickSize(9).tickPadding(7);
  var xAxis = d3.axisBottom(lon).tickValues(lonTicks).tickFormat(function(d) { return d + "E"; }).tickSize(9).tickPadding(13);
  var ay = g.append("g").attr("transform", "translate(" + p.x + ",0)").call(yAxis);
  var ax = g.append("g").attr("transform", "translate(0," + (p.y + p.h) + ")").call(xAxis);
  ax.selectAll(".minor").data(lonMinor).enter().append("line")
    .attr("class", "minor").attr("x1", lon).attr("x2", lon).attr("y1", 0).attr("y2", 4).attr("stroke", "#444");
  [ay, ax].forEach(function(a) {
    a.select(".domain").remove();
    a.selectAll(".tick line").attr("stroke", "#444").attr("stroke-width", 1.1);
    a.selectAll("text").attr("font-size", 14.4).attr("font-family", '"Liberation Sans", Arial, sans-serif').attr("fill", "#222");
  });

  g.append("rect")
    .attr("x", p.x).attr("y", p.y).attr("width", w).attr("height", p.h)
    .attr("fill", "none").attr("stroke", "#444").attr("stroke-width", 1.3);

  g.append("text").attr("x", p.d1).attr("y", p.y + p.h + 17)
    .attr("text-anchor", "middle").attr("font-size", 17.5).attr("font-weight", "bold").text("D1");
  g.append("text").attr("x", p.d2).attr("y", p.y + p.h + 17)
    .attr("text-anchor", "middle").attr("font-size", 17.5).attr("font-weight", "bold").text("D2");

  g.append("text").attr("x", p.tx).attr("y", p.y - 15)
    .attr("text-anchor", "middle").attr("font-size", p.title.length > 12 ? 28.5 : 27.7).text(p.title);

  g.append("text").attr("x", p.tag_x).attr("y", p.y + 42)
    .attr("text-anchor", "middle").attr("font-size", 40).attr("font-weight", 900)
    .style("font-family", "Lato, sans-serif").text(p.tag);
});

// row labels
var rowLabels = [
  {y: 246,  py: 246,  px: 1047, phase: "Phase 1"},
  {y: 749,  py: 747,  px: 1047, phase: "Phase 3"},
  {y: 1252, py: 1249, px: 1052, phase: "Phase 5"}
];
rowLabels.forEach(function(r) {
  svg.append("text").attr("transform", "translate(37," + r.y + ") rotate(-90)")
    .attr("text-anchor", "middle").attr("font-size", 27.5).text("Pressure Level (hPa)");
  svg.append("text").attr("transform", "translate(" + r.px + "," + r.py + ") rotate(90)")
    .attr("text-anchor", "middle").attr("font-size", 26.5).text(r.phase);
});

// colour bars
var legends = [
  {x: 120.7, lim: 40,  ticks: [-32, -16, 0, 16, 32]},
  {x: 461,   lim: 10,  ticks: [-8, -4, 0, 4, 8]},
  {x: 801,   lim: 2,   ticks: [-1.6, -0.8, 0, 0.8, 1.6]}
];
legends.forEach(function(l) {
  var lw = 231.5;
  var lx = d3.scaleLinear().domain([-l.lim, l.lim]).range([l.x, l.x + lw]);
  var band = d3.scaleBand().domain(d3.range(10)).range([l.x, l.x + lw]);
  svg.append("g").selectAll("rect")
    .data(colors)
    .enter()
    .append("rect")
      .attr("x", function(d, i) { return band(i); })
      .attr("y", 1494)
      .attr("width", band.bandwidth())
      .attr("height", 14)
      .attr("fill", function(d) { return d; })
      .attr("stroke", "#667")
      .attr("stroke-width", 0.4);
  svg.append("g").selectAll("text")
    .data(l.ticks)
    .enter()
    .append("text")
      .attr("x", function(d) { return lx(d) - (d < 0 ? 3 : 0); })
      .attr("y", 1529)
      .attr("text-anchor", "middle")
      .attr("font-size", 21)
      .attr("font-weight", "bold")
      .style("font-family", "Lato, sans-serif")
      .text(function(d) { return d; });
});
</script>
</body>
</html>
